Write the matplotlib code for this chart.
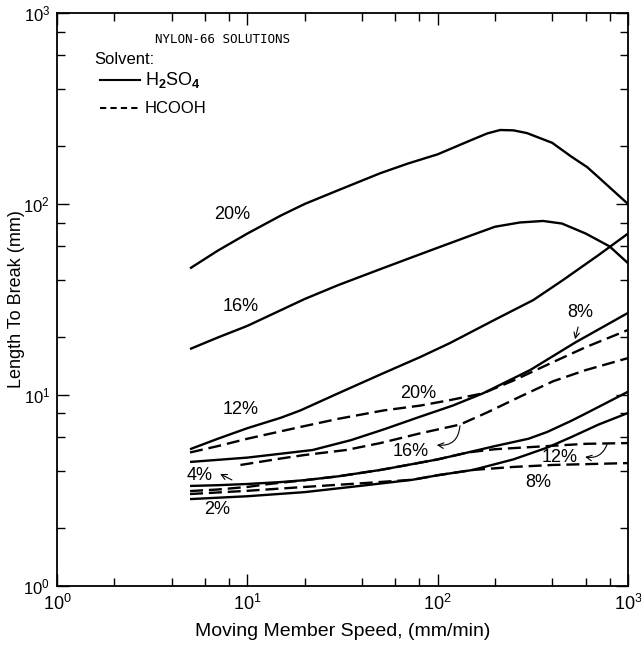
import matplotlib.pyplot as plt
from matplotlib.ticker import LogLocator, NullFormatter

plt.rcParams['font.family'] = ['Liberation Sans', 'DejaVu Sans']
plt.rcParams['mathtext.fontset'] = 'custom'
plt.rcParams['mathtext.rm'] = 'Liberation Sans'
plt.rcParams['mathtext.bf'] = 'Liberation Sans:bold'

# H2SO4 solutions (solid lines), speed in mm/min, length to break in mm
h2so4_20_x = [5, 7, 10, 15, 20, 30, 50, 70, 100, 150, 182, 213, 250, 295, 400, 500, 610, 700, 1000]
h2so4_20_y = [46, 57, 70, 87, 100, 118, 145, 163, 182, 216, 234, 244, 243, 235, 209, 178, 156, 138, 100]

h2so4_16_x = [5, 7, 10, 15, 20, 30, 50, 70, 100, 150, 200, 270, 358, 450, 600, 800, 1000]
h2so4_16_y = [17.4, 20, 23, 27.8, 31.8, 37.6, 45.6, 51.7, 59, 68.5, 76, 80, 81.5, 79, 70, 60, 49]

h2so4_12_x = [5, 7, 10, 15, 19, 30, 50, 81, 116, 200, 318, 456, 700, 1000]
h2so4_12_y = [5.2, 5.9, 6.7, 7.6, 8.3, 10.2, 12.8, 15.8, 18.7, 24.8, 31.4, 40, 54, 70]

h2so4_8_x = [5, 10, 22, 35, 52, 81, 120, 173, 306, 527, 1000]
h2so4_8_y = [4.46, 4.7, 5.15, 5.8, 6.6, 7.7, 8.8, 10.2, 13.5, 18.8, 26.9]

h2so4_4_x = [5, 7, 10, 15, 20, 30, 50, 74, 100, 144, 200, 300, 376, 500, 600, 805, 1000]
h2so4_4_y = [3.34, 3.37, 3.42, 3.5, 3.58, 3.75, 4.05, 4.35, 4.6, 5.0, 5.4, 5.9, 6.4, 7.3, 8.0, 9.3, 10.4]

h2so4_2_x = [5, 10, 20, 40, 74, 100, 153, 250, 376, 500, 700, 1000]
h2so4_2_y = [2.85, 2.95, 3.1, 3.35, 3.6, 3.8, 4.05, 4.6, 5.3, 6.0, 7.0, 8.05]

# HCOOH solutions (dashed lines)
hcooh_20_x = [5, 7, 10, 19, 30, 52, 81, 116, 173, 250, 400, 600, 1000]
hcooh_20_y = [5.0, 5.4, 5.9, 6.8, 7.5, 8.3, 8.8, 9.4, 10.2, 11.9, 14.8, 17.8, 21.9]

hcooh_16_x = [9.2, 15, 20, 33, 50, 81, 131, 182, 271, 404, 600, 1000]
hcooh_16_y = [4.3, 4.65, 4.85, 5.15, 5.6, 6.3, 7.0, 8.1, 9.8, 11.8, 13.5, 15.6]

hcooh_12_x = [5, 7, 10, 13, 20, 30, 50, 74, 100, 144, 200, 376, 600, 1000]
hcooh_12_y = [3.14, 3.2, 3.3, 3.42, 3.58, 3.75, 4.05, 4.35, 4.6, 5.0, 5.2, 5.4, 5.55, 5.6]

hcooh_8_x = [5, 10, 20, 40, 74, 100, 153, 250, 400, 1000]
hcooh_8_y = [3.03, 3.15, 3.3, 3.45, 3.6, 3.8, 4.05, 4.2, 4.3, 4.4]

# curve labels: text, x, y
curve_labels = [
    ('20%', 8.3, 87.6),
    ('16%', 9.2, 28.9),
    ('12%', 9.2, 8.35),
    ('20%', 79, 10.2),
    ('8%', 560, 26.9),
    ('16%', 72, 5.03),
    ('4%', 5.64, 3.81),
    ('2%', 6.93, 2.5),
    ('12%', 440, 4.68),
    ('8%', 337, 3.5),
]

fig = plt.figure(figsize=(6.41, 6.50), dpi=100)
ax = fig.add_axes([0.0889, 0.0985, 0.8908, 0.8815])

lw = 1.7
dash = (5.5, 2.5)
for xs, ys in [(h2so4_20_x, h2so4_20_y), (h2so4_16_x, h2so4_16_y), (h2so4_12_x, h2so4_12_y),
               (h2so4_8_x, h2so4_8_y), (h2so4_4_x, h2so4_4_y), (h2so4_2_x, h2so4_2_y)]:
    ax.plot(xs, ys, color='black', lw=lw, solid_capstyle='butt', solid_joinstyle='round')
for xs, ys in [(hcooh_20_x, hcooh_20_y), (hcooh_16_x, hcooh_16_y),
               (hcooh_12_x, hcooh_12_y), (hcooh_8_x, hcooh_8_y)]:
    ax.plot(xs, ys, color='black', lw=lw, linestyle=(0, dash), dash_capstyle='butt')

for txt, x, y in curve_labels:
    ax.text(x, y, txt, fontsize=13, ha='center', va='center')

# little pointer arrows
arrow = dict(arrowstyle='->', lw=0.8, color='black', shrinkA=0, shrinkB=0)
ax.annotate('', xy=(527, 19.6), xytext=(547, 22.7), arrowprops=arrow)
ax.annotate('', xy=(99, 5.47), xytext=(131, 6.9),
            arrowprops=dict(arrow, connectionstyle='arc3,rad=-0.5'))
ax.annotate('', xy=(595, 4.74), xytext=(776, 5.5),
            arrowprops=dict(arrow, connectionstyle='arc3,rad=-0.4'))
ax.annotate('', xy=(7.2, 3.86), xytext=(8.3, 3.59), arrowprops=arrow)

ax.set_xscale('log')
ax.set_yscale('log')
ax.set_xlim(1, 1000)
ax.set_ylim(1, 1000)

for axis in (ax.xaxis, ax.yaxis):
    axis.set_major_locator(LogLocator(base=10))
    axis.set_minor_locator(LogLocator(base=10, subs=(2, 4, 6, 8)))
    axis.set_minor_formatter(NullFormatter())
ax.tick_params(which='both', direction='in', top=True, right=True, labelsize=13, width=1)
ax.tick_params(which='major', length=8.5, pad=6)
ax.tick_params(which='minor', length=5.5)
ax.tick_params(axis='y', labelsize=12, pad=5)
for s in ax.spines.values():
    s.set_linewidth(1.3)

ax.set_xlabel('Moving Member Speed, (mm/min)', fontsize=14, labelpad=6)
ax.set_ylabel('Length To Break (mm)', fontsize=13)
ax.yaxis.set_label_coords(-0.056, 0.5)

# legend block drawn by hand
ax.text(0.1716, 0.9546, 'NYLON-66 SOLUTIONS', transform=ax.transAxes, fontsize=9,
        family='DejaVu Sans Mono', ha='left', va='center')
ax.text(0.0648, 0.918, 'Solvent:', transform=ax.transAxes, fontsize=12, ha='left', va='center')
ax.plot([0.0753, 0.1454], [0.883, 0.883], transform=ax.transAxes, color='black', lw=1.5)
ax.text(0.154, 0.883, r'H$_\mathbf{2}$SO$_\mathbf{4}$', transform=ax.transAxes, fontsize=13,
        ha='left', va='center')
ax.plot([0.0753, 0.1454], [0.834, 0.834], transform=ax.transAxes, color='black', lw=1.5,
        linestyle=(0, (3, 2)))
ax.text(0.154, 0.834, 'HCOOH', transform=ax.transAxes, fontsize=12, ha='left', va='center')

fig.savefig('out.png', dpi=100)
